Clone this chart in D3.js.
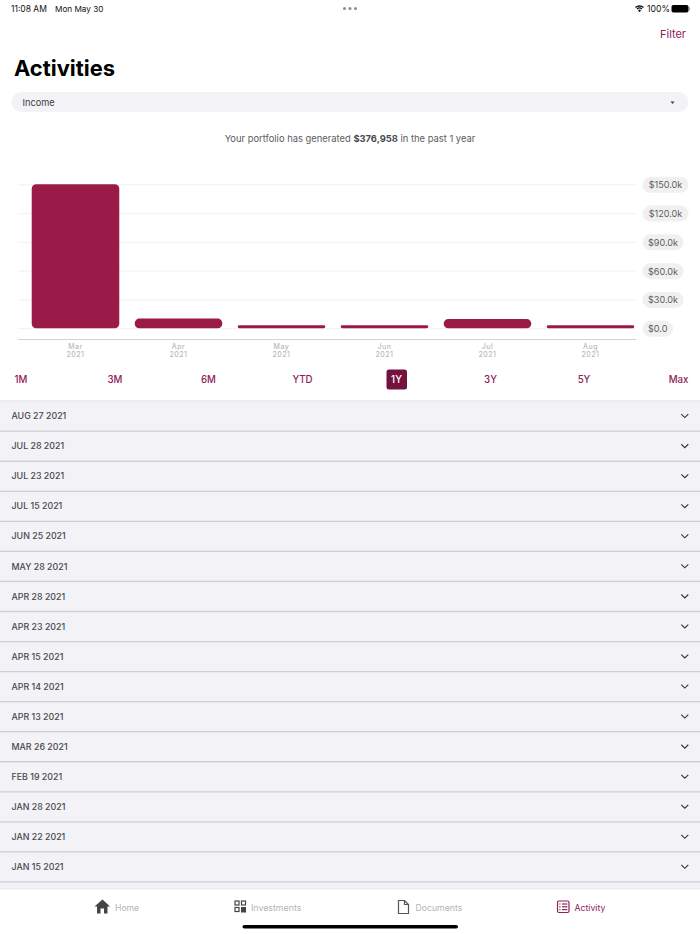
<!DOCTYPE html>
<html><head><meta charset="utf-8">
<script src="https://cdn.jsdelivr.net/npm/d3@7/dist/d3.min.js"></script>
<style>html,body{margin:0;padding:0;background:#fff}svg{display:block}text{font-family:Inter,"Noto Sans",sans-serif}</style>
</head><body><svg id="c" width="700" height="934" viewBox="0 0 700 934"></svg>
<script>
const months = ["Mar","Apr","May","Jun","Jul","Aug"];
const years = ["2021","2021","2021","2021","2021","2021"];
const income = [150000,10000,3000,3000,9500,3000];
const yTicks = [0,30000,60000,90000,120000,150000];
const yLabels = ["$0.0","$30.0k","$60.0k","$90.0k","$120.0k","$150.0k"];
const ranges = ["1M","3M","6M","YTD","1Y","3Y","5Y","Max"];
const rangeX = [21,115,208.5,302.5,396.5,490.5,584,678.5];
const dates = ["AUG 27 2021","JUL 28 2021","JUL 23 2021","JUL 15 2021","JUN 25 2021","MAY 28 2021","APR 28 2021","APR 23 2021","APR 15 2021","APR 14 2021","APR 13 2021","MAR 26 2021","FEB 19 2021","JAN 28 2021","JAN 22 2021","JAN 15 2021"];
const tabs = ["Home","Investments","Documents","Activity"];

const plum="#8e2257", berry="#9b1b48", darkBtn="#74123f", rowBg="#f2f2f7", sep="#cfcfd3";
const svg=d3.select("#c");
const T=(x,y,s,size,fill,anchor="start",weight=400,p=svg)=>p.append("text").attr("x",x).attr("y",y).attr("font-size",size).attr("fill",fill).attr("text-anchor",anchor).attr("font-weight",weight).attr("dominant-baseline","central").text(s);

// status bar
T(11,8.5,"11:08 AM",8.5,"#111");
T(55,8.5,"Mon May 30",8.2,"#111");
[344.5,350,355.5].forEach(x=>svg.append("circle").attr("cx",x).attr("cy",8.5).attr("r",1.5).attr("fill","#8a8a8e"));
const wifi=svg.append("g").attr("transform","translate(639.5,11.8)").attr("fill","none").attr("stroke","#111").attr("stroke-width",1.3);
[1.6,3.7,5.8].forEach(r=>wifi.append("path").attr("d",d3.arc()({innerRadius:r,outerRadius:r,startAngle:-0.75,endAngle:0.75})));
wifi.append("circle").attr("r",0.8).attr("cy",-0.5).attr("fill","#111").attr("stroke","none");
T(647,8.5,"100%",8.7,"#111");
svg.append("rect").attr("x",671.5).attr("y",5).attr("width",17).attr("height",7.5).attr("rx",1.8).attr("fill","#000");
svg.append("rect").attr("x",689).attr("y",7.3).attr("width",1).attr("height",3).attr("fill","#999");

T(686,33.5,"Filter",11,plum,"end");
T(14,67.5,"Activities",21.9,"#000","start",700);

// dropdown
svg.append("rect").attr("x",11.5).attr("y",92).attr("width",677).attr("height",20).attr("rx",10).attr("fill",rowBg);
T(22.5,102,"Income",9.2,"#3c3c43");
svg.append("path").attr("d","M670.5 101.5h4l-2 2.5z").attr("fill","#3c3c43");

// summary
const sum=svg.append("text").attr("x",350).attr("y",138).attr("text-anchor","middle").attr("dominant-baseline","central").attr("font-size",9.4).attr("fill","#5b5b60");
sum.append("tspan").text("Your portfolio has generated ");
sum.append("tspan").attr("font-weight",700).attr("fill","#4a4a4f").text("$376,958");
sum.append("tspan").text(" in the past 1 year");

// chart
const x=d3.scaleBand().domain(months).range([24,642]).paddingInner(0.15).paddingOuter(0.075);
const y=d3.scaleLinear().domain([0,150000]).range([328.2,184.3]);
const gridG=svg.append("g").call(d3.axisRight(y).tickValues(yTicks).tickSize(618).tickFormat(""))
  .attr("transform","translate(18,0)");
gridG.select(".domain").remove();
gridG.selectAll("line").attr("stroke","#f1f1f3").attr("stroke-width",1);

svg.append("g").selectAll("path").data(income).join("path")
  .attr("fill",berry)
  .attr("d",(d,i)=>{
    const X=x(months[i]),W=x.bandwidth(),Y=y(d),H=y(0)-Y,r=Math.min(4.5,H/2);
    return `M${X+r} ${Y}H${X+W-r}A${r} ${r} 0 0 1 ${X+W} ${Y+r}V${Y+H-r}A${r} ${r} 0 0 1 ${X+W-r} ${Y+H}H${X+r}A${r} ${r} 0 0 1 ${X} ${Y+H-r}V${Y+r}A${r} ${r} 0 0 1 ${X+r} ${Y}Z`;
  });

// y-axis pills
const yAxis=svg.append("g").attr("transform","translate(642.5,0)")
  .call(d3.axisRight(y).tickValues(yTicks).tickSize(0).tickPadding(0).tickFormat((d,i)=>yLabels[i]));
yAxis.select(".domain").remove();
yAxis.selectAll(".tick").each(function(d,i){
  const g=d3.select(this), w=[30.5,41,41,41,46,46][i];
  g.insert("rect","text").attr("x",0).attr("y",-8).attr("width",w).attr("height",16).attr("rx",8).attr("fill","#f0f0f1");
  g.select("text").attr("x",w/2).attr("y",0).attr("dy",null).attr("dominant-baseline","central").attr("text-anchor","middle")
   .attr("font-size",9.1).attr("font-family",'Inter,"Noto Sans",sans-serif').attr("fill","#5e5e62");
});

// x-axis
const xAxis=svg.append("g").attr("transform","translate(0,339)")
  .call(d3.axisBottom(x).tickSize(0).tickPadding(0).tickFormat(""));
xAxis.select(".domain").remove();
svg.append("line").attr("x1",18).attr("x2",636).attr("y1",339.5).attr("y2",339.5).attr("stroke","#d4d4d6").attr("stroke-width",1);
xAxis.selectAll(".tick").each(function(d,i){
  const g=d3.select(this);
  g.select("text").remove();
  [[7.6,months[i]],[15.6,years[i]]].forEach(([dy,s])=>
    g.append("text").attr("y",dy).attr("text-anchor","middle").attr("dominant-baseline","central")
     .attr("font-size",7).attr("font-weight",500).attr("letter-spacing",0.5).attr("fill","#b9b9bc").text(s));
});

// range buttons
ranges.forEach((r,i)=>{
  if(r==="1Y") svg.append("rect").attr("x",386.5).attr("y",369.5).attr("width",20.5).attr("height",20).attr("rx",2.5).attr("fill",darkBtn);
  T(rangeX[i],379.5,r,9.7,r==="1Y"?"#fff":plum,"middle",500);
});

// rows
svg.append("rect").attr("x",0).attr("y",400.5).attr("width",700).attr("height",489).attr("fill",rowBg);
svg.append("line").attr("x1",0).attr("x2",700).attr("y1",401).attr("y2",401).attr("stroke","#e3e3e6").attr("stroke-width",1);
const rows=svg.append("g").selectAll("g").data(dates).join("g").attr("transform",(d,i)=>`translate(0,${401+i*30.05})`);
rows.append("line").attr("x1",0).attr("x2",700).attr("y1",30.2).attr("y2",30.2).attr("stroke",sep).attr("stroke-width",1.3);
rows.append("text").attr("x",11.5).attr("y",14.8).attr("dominant-baseline","central").attr("font-size",8.85).attr("font-weight",500).attr("fill","#48484c").text(d=>d);
rows.append("path").attr("d","M681.3 13.2L684.8 16.6L688.3 13.2").attr("fill","none").attr("stroke","#333").attr("stroke-width",1.1);

// tab bar
svg.append("rect").attr("x",0).attr("y",889).attr("width",700).attr("height",45).attr("fill","#fff");
svg.append("line").attr("x1",0).attr("x2",700).attr("y1",888.8).attr("y2",888.8).attr("stroke","#e6e6e9").attr("stroke-width",1);
svg.append("path").attr("d","M94.5 906.5L102.5 899.5L110 906.5H107.5V913.5H104V908.5H100.5V913.5H97V906.5Z").attr("fill","#444");
T(115,907.5,tabs[0],8.6,"#b4b4b7");
const inv=svg.append("g").attr("fill","none").attr("stroke","#444").attr("stroke-width",1.2);
[[235,901],[241.5,901],[235,907.5]].forEach(([a,b])=>inv.append("rect").attr("x",a).attr("y",b).attr("width",4).attr("height",4));
svg.append("rect").attr("x",241).attr("y",907).attr("width",5).attr("height",5.5).attr("fill","#444");
T(251,907.5,tabs[1],8.8,"#b4b4b7");
svg.append("path").attr("d","M398.5 900.5H404.5L408.5 904.5V913.5H398.5ZM404.5 900.5V904.5H408.5").attr("fill","none").attr("stroke","#555").attr("stroke-width",1.2);
T(415.5,907.5,tabs[2],8.7,"#b4b4b7");
const act=svg.append("g").attr("fill","none").attr("stroke",plum).attr("stroke-width",1.2);
act.append("rect").attr("x",557.5).attr("y",901).attr("width",11.5).attr("height",11.5).attr("rx",1.5);
[904,906.8,909.6].forEach(b=>{act.append("line").attr("x1",559.3).attr("x2",560.5).attr("y1",b).attr("y2",b);act.append("line").attr("x1",562).attr("x2",567.3).attr("y1",b).attr("y2",b);});
T(574.5,907.5,tabs[3],8.7,plum);
svg.append("rect").attr("x",242.5).attr("y",925).attr("width",215.5).attr("height",3.5).attr("rx",1.75).attr("fill","#000");
</script></body></html>
